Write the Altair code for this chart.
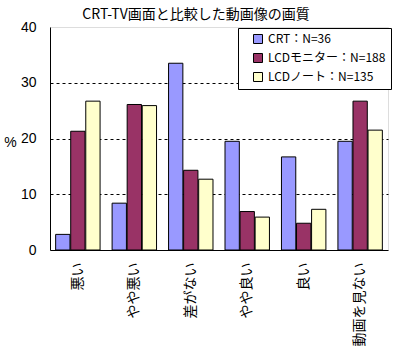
import altair as alt
import pandas as pd

categories = ["悪い", "やや悪い", "差がない", "やや良い", "良い", "動画を見ない"]
series = ["CRT：N=36", "LCDモニター：N=188", "LCDノート：N=135"]
crt = [2.8, 8.4, 33.5, 19.5, 16.7, 19.5]
lcd_monitor = [21.3, 26.1, 14.3, 6.9, 4.8, 26.7]
lcd_note = [26.7, 25.9, 12.7, 5.9, 7.3, 21.5]
colors = ["#9999FF", "#993366", "#FFFFCC"]

rows = []
for s, vals in zip(series, [crt, lcd_monitor, lcd_note]):
    for c, v in zip(categories, vals):
        rows.append({"cat": c, "series": s, "value": v})
df = pd.DataFrame(rows)

font = "Noto Sans CJK JP"

chart = alt.Chart(df).mark_bar(stroke="black", strokeWidth=1).encode(
    x=alt.X("cat:N", sort=categories,
            scale=alt.Scale(paddingInner=0.213, paddingOuter=0.1),
            axis=alt.Axis(title=None, labelAngle=-90, labelFont=font, labelFontSize=14,
                          labelColor="black", labelPadding=12, ticks=False,
                          domainColor="black", domainWidth=1)),
    xOffset=alt.XOffset("series:N", sort=series, scale=alt.Scale(paddingInner=0.05, paddingOuter=0)),
    y=alt.Y("value:Q", scale=alt.Scale(domain=[0, 40]),
            axis=alt.Axis(title="%", titleAngle=0, titleX=-40, titleY=115, titleAlign="center",
                          titleBaseline="middle", titleFont="Liberation Sans", titleFontSize=14,
                          titleFontWeight="normal", titleColor="black",
                          values=[0, 10, 20, 30, 40], labelFont="Liberation Sans", labelFontSize=14,
                          labelColor="black", labelPadding=14, ticks=False,
                          domainColor="black", domainWidth=1,
                          grid=True, gridColor="black", gridDash=[3, 3], gridWidth=1,
                          gridOpacity={"condition": {"test": "datum.value === 40 || datum.value === 0", "value": 0}, "value": 1})),
    color=alt.Color("series:N", sort=series,
                    scale=alt.Scale(domain=series, range=colors),
                    legend=alt.Legend(title=None, orient="none", legendX=188, legendY=1,
                                      fillColor="white", strokeColor="black", padding=5,
                                      symbolType="square", symbolSize=81, symbolStrokeColor="black",
                                      symbolStrokeWidth=1, symbolOffset=9, labelOffset=4,
                                      labelFont=font, labelFontSize=12, labelColor="black",
                                      rowPadding=5, labelLimit=200)),
).properties(
    width=338, height=223,
    title=alt.TitleParams("CRT-TV画面と比較した動画像の画質", font=font, fontSize=14,
                          fontWeight="normal", color="black", anchor="middle", dx=-23, dy=8,
                          offset=6),
    autosize=alt.AutoSizeParams(type="none"),
    padding={"left": 50, "top": 27, "right": 12, "bottom": 100},
).configure_view(
    fill="#C0C0C0", stroke="#808080", strokeWidth=1
).configure(background="white")

chart.save("out.html", embed_options={"renderer": "svg", "actions": False})
